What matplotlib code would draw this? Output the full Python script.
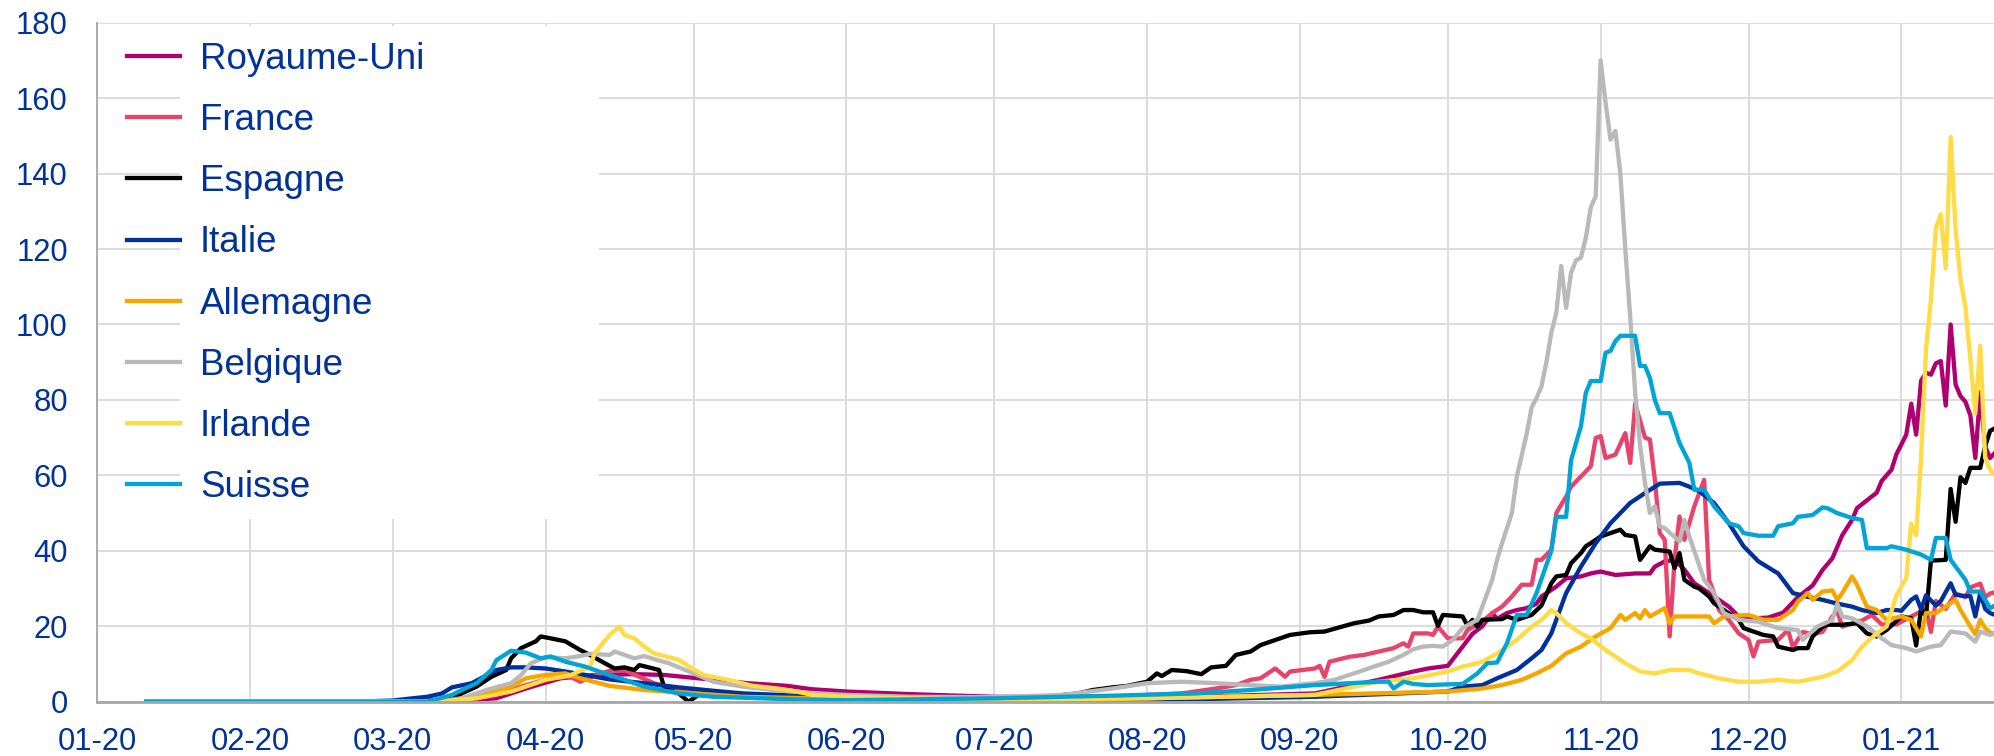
import matplotlib
matplotlib.use("Agg")
import matplotlib.pyplot as plt
import matplotlib.dates as mdates
from matplotlib.patches import Rectangle
import pandas as pd

plt.rcParams["font.family"] = ["Liberation Sans", "DejaVu Sans"]

# Royaume-Uni
uk_dates = ["2020-01-11", "2020-03-08", "2020-03-15", "2020-03-22", "2020-03-28", "2020-04-04",
            "2020-04-11", "2020-04-19", "2020-04-25", "2020-05-02", "2020-05-12", "2020-05-20",
            "2020-05-25", "2020-06-01", "2020-06-14", "2020-07-01", "2020-07-25", "2020-08-11",
            "2020-09-04", "2020-09-17", "2020-09-24", "2020-09-27", "2020-10-01", "2020-10-04",
            "2020-10-06", "2020-10-08", "2020-10-10", "2020-10-11", "2020-10-13", "2020-10-15",
            "2020-10-17", "2020-10-19", "2020-10-20", "2020-10-23", "2020-10-25", "2020-10-28",
            "2020-10-30", "2020-11-01", "2020-11-04", "2020-11-08", "2020-11-11", "2020-11-12",
            "2020-11-14", "2020-11-16", "2020-11-18", "2020-11-20", "2020-11-23", "2020-11-25",
            "2020-11-27", "2020-11-29", "2020-12-02", "2020-12-05", "2020-12-08", "2020-12-11",
            "2020-12-14", "2020-12-16", "2020-12-18", "2020-12-20", "2020-12-22", "2020-12-23",
            "2020-12-26", "2020-12-27", "2020-12-28", "2020-12-30", "2020-12-31", "2021-01-02",
            "2021-01-03", "2021-01-04", "2021-01-05", "2021-01-06", "2021-01-07", "2021-01-08",
            "2021-01-09", "2021-01-10", "2021-01-11", "2021-01-12", "2021-01-13", "2021-01-14",
            "2021-01-15", "2021-01-16", "2021-01-17", "2021-01-18", "2021-01-19", "2021-01-20"]
uk_vals = [0, 0, 0.3, 0.9, 3.5, 6.2,
           7.1, 7.3, 7.1, 6.2, 4.9, 4.2,
           3.3, 2.7, 2.0, 1.3, 1.2, 1.3,
           2.2, 5.8, 8.0, 8.8, 9.5, 14.6,
           18.0, 20.0, 23.5, 22.0, 23.5, 24.3,
           24.8, 26.0, 27.9, 30.5, 32.7, 33.2,
           34.0, 34.5, 33.6, 34.0, 34.0, 35.8,
           37.2, 37.6, 35.0, 31.4, 28.8, 27.0,
           25.2, 22.6, 22.1, 22.3, 23.6, 27.7,
           30.8, 34.9, 38.0, 44.1, 48.2, 51.3,
           54.4, 55.4, 58.5, 61.5, 65.6, 70.8,
           79.0, 70.8, 85.1, 87.2, 86.7, 89.7,
           90.3, 78.5, 100.0, 84.1, 81.0, 79.5,
           75.9, 64.6, 82.0, 67.7, 64.6, 66.0]

# France
fr_dates = ["2020-01-11", "2020-03-08", "2020-03-15", "2020-03-22", "2020-03-28", "2020-04-02",
            "2020-04-06", "2020-04-08", "2020-04-11", "2020-04-14", "2020-04-17", "2020-04-20",
            "2020-04-23", "2020-04-28", "2020-05-05", "2020-05-18", "2020-06-01", "2020-07-01",
            "2020-07-25", "2020-08-01", "2020-08-08", "2020-08-15", "2020-08-19", "2020-08-22",
            "2020-08-24", "2020-08-27", "2020-08-29", "2020-08-30", "2020-09-04", "2020-09-05",
            "2020-09-06", "2020-09-07", "2020-09-11", "2020-09-14", "2020-09-17", "2020-09-20",
            "2020-09-22", "2020-09-23", "2020-09-24", "2020-09-27", "2020-09-28", "2020-09-29",
            "2020-10-01", "2020-10-04", "2020-10-05", "2020-10-08", "2020-10-10", "2020-10-12",
            "2020-10-14", "2020-10-16", "2020-10-18", "2020-10-19", "2020-10-20", "2020-10-22",
            "2020-10-23", "2020-10-25", "2020-10-26", "2020-10-28", "2020-10-30", "2020-10-31",
            "2020-11-01", "2020-11-02", "2020-11-04", "2020-11-06", "2020-11-07", "2020-11-08",
            "2020-11-10", "2020-11-11", "2020-11-12", "2020-11-13", "2020-11-14", "2020-11-15",
            "2020-11-16", "2020-11-17", "2020-11-18", "2020-11-20", "2020-11-22", "2020-11-23",
            "2020-11-24", "2020-11-25", "2020-11-27", "2020-11-29", "2020-12-01", "2020-12-02",
            "2020-12-03", "2020-12-07", "2020-12-09", "2020-12-10", "2020-12-12", "2020-12-14",
            "2020-12-16", "2020-12-18", "2020-12-19", "2020-12-20", "2020-12-24", "2020-12-26",
            "2020-12-28", "2020-12-31", "2021-01-03", "2021-01-06", "2021-01-07", "2021-01-08",
            "2021-01-10", "2021-01-12", "2021-01-14", "2021-01-15", "2021-01-17", "2021-01-18",
            "2021-01-19", "2021-01-20"]
fr_vals = [0, 0, 0.5, 1.8, 4.4, 6.2,
           6.6, 5.3, 7.0, 8.2, 8.4, 6.6,
           4.9, 3.1, 2.2, 1.5, 0.8, 0.5,
           1.0, 1.8, 2.2, 3.5, 4.4, 5.8,
           6.2, 8.8, 6.6, 8.0, 8.8, 9.5,
           6.6, 10.6, 11.9, 12.4, 13.3, 14.2,
           15.5, 14.6, 18.1, 18.1, 17.7, 19.9,
           16.8, 16.8, 19.0, 21.2, 23.5, 25.2,
           27.9, 31.0, 31.0, 37.6, 37.6, 40.3,
           50.0, 54.4, 57.0, 59.7, 62.4, 69.9,
           70.4, 64.6, 65.5, 71.2, 63.3, 79.0,
           70.0, 69.5, 58.8, 44.7, 42.9, 17.3,
           37.6, 49.1, 42.9, 51.8, 58.8, 32.3,
           28.8, 24.3, 21.7, 18.1, 16.4, 12.0,
           15.9, 16.4, 19.0, 14.4, 18.5, 17.9,
           18.5, 22.6, 24.0, 19.9, 21.5, 23.0,
           20.5, 20.5, 22.6, 24.6, 18.5, 26.7,
           24.6, 28.7, 27.7, 30.3, 31.3, 27.7,
           28.7, 29.0]

# Espagne
es_dates = ["2020-01-11", "2020-03-05", "2020-03-10", "2020-03-13", "2020-03-15", "2020-03-18",
            "2020-03-21", "2020-03-24", "2020-03-25", "2020-03-27", "2020-03-30", "2020-03-31",
            "2020-04-02", "2020-04-05", "2020-04-08", "2020-04-10", "2020-04-13", "2020-04-15",
            "2020-04-17", "2020-04-19", "2020-04-20", "2020-04-21", "2020-04-24", "2020-04-25",
            "2020-04-26", "2020-04-28", "2020-04-30", "2020-05-02", "2020-05-10", "2020-05-20",
            "2020-05-25", "2020-06-10", "2020-07-01", "2020-07-11", "2020-07-13", "2020-07-18",
            "2020-07-21", "2020-07-25", "2020-07-28", "2020-08-01", "2020-08-03", "2020-08-04",
            "2020-08-06", "2020-08-09", "2020-08-12", "2020-08-14", "2020-08-17", "2020-08-19",
            "2020-08-22", "2020-08-24", "2020-08-28", "2020-08-30", "2020-09-03", "2020-09-06",
            "2020-09-09", "2020-09-12", "2020-09-15", "2020-09-17", "2020-09-20", "2020-09-22",
            "2020-09-24", "2020-09-26", "2020-09-28", "2020-09-29", "2020-09-30", "2020-10-04",
            "2020-10-05", "2020-10-06", "2020-10-07", "2020-10-08", "2020-10-12", "2020-10-13",
            "2020-10-15", "2020-10-18", "2020-10-20", "2020-10-22", "2020-10-23", "2020-10-25",
            "2020-10-26", "2020-10-28", "2020-10-29", "2020-10-31", "2020-11-01", "2020-11-03",
            "2020-11-05", "2020-11-06", "2020-11-08", "2020-11-09", "2020-11-11", "2020-11-12",
            "2020-11-15", "2020-11-16", "2020-11-17", "2020-11-18", "2020-11-20", "2020-11-21",
            "2020-11-23", "2020-11-24", "2020-11-26", "2020-11-29", "2020-11-30", "2020-12-04",
            "2020-12-06", "2020-12-07", "2020-12-10", "2020-12-11", "2020-12-13", "2020-12-14",
            "2020-12-16", "2020-12-17", "2020-12-20", "2020-12-23", "2020-12-25", "2020-12-27",
            "2020-12-29", "2021-01-01", "2021-01-03", "2021-01-04", "2021-01-05", "2021-01-06",
            "2021-01-07", "2021-01-10", "2021-01-11", "2021-01-12", "2021-01-13", "2021-01-14",
            "2021-01-15", "2021-01-17", "2021-01-18", "2021-01-19", "2021-01-20"]
es_vals = [0, 0, 0.4, 1.0, 2.2, 4.0,
           6.6, 8.4, 11.5, 14.2, 16.0, 17.3,
           16.8, 16.0, 13.7, 12.4, 10.2, 8.8,
           9.1, 8.4, 9.7, 9.4, 8.4, 4.0,
           3.1, 2.2, 0.0, 1.8, 1.6, 1.2,
           1.0, 0.3, 0.5, 1.0, 1.5, 2.2,
           3.1, 3.8, 4.2, 5.3, 7.5, 6.8,
           8.4, 8.1, 7.3, 9.1, 9.5, 12.4,
           13.3, 15.0, 16.8, 17.7, 18.4, 18.6,
           19.7, 20.8, 21.5, 22.6, 23.0, 24.3,
           24.3, 23.7, 23.7, 20.1, 23.0, 22.6,
           20.1, 21.7, 19.9, 21.7, 21.9, 22.6,
           21.7, 23.0, 25.5, 31.4, 33.2, 33.6,
           36.7, 39.4, 41.2, 42.9, 43.8, 44.7,
           45.6, 44.2, 43.8, 37.6, 41.2, 40.3,
           39.8, 35.4, 39.4, 32.3, 30.5, 30.0,
           27.9, 26.1, 24.3, 21.7, 19.5, 17.7,
           17.3, 14.6, 13.7, 14.2, 14.2, 17.3,
           19.9, 20.4, 20.4, 20.8, 18.1, 17.3,
           19.0, 22.6, 22.1, 14.9, 24.6, 22.6,
           37.4, 37.6, 56.4, 47.7, 59.5, 58.0,
           62.0, 62.0, 67.7, 71.8, 72.5]

# Italie
it_dates = ["2020-01-11", "2020-02-22", "2020-03-01", "2020-03-05", "2020-03-08", "2020-03-11",
            "2020-03-13", "2020-03-17", "2020-03-20", "2020-03-22", "2020-03-25", "2020-03-28",
            "2020-04-01", "2020-04-05", "2020-04-09", "2020-04-14", "2020-04-21", "2020-04-28",
            "2020-05-05", "2020-05-11", "2020-05-22", "2020-06-01", "2020-07-01", "2020-08-01",
            "2020-09-04", "2020-10-01", "2020-10-04", "2020-10-08", "2020-10-11", "2020-10-15",
            "2020-10-18", "2020-10-20", "2020-10-22", "2020-10-23", "2020-10-25", "2020-10-28",
            "2020-10-31", "2020-11-03", "2020-11-07", "2020-11-10", "2020-11-13", "2020-11-17",
            "2020-11-19", "2020-11-21", "2020-11-24", "2020-11-27", "2020-11-30", "2020-12-03",
            "2020-12-07", "2020-12-08", "2020-12-10", "2020-12-13", "2020-12-16", "2020-12-19",
            "2020-12-22", "2020-12-24", "2020-12-27", "2020-12-29", "2020-12-31", "2021-01-01",
            "2021-01-03", "2021-01-04", "2021-01-05", "2021-01-06", "2021-01-08", "2021-01-09",
            "2021-01-11", "2021-01-12", "2021-01-14", "2021-01-15", "2021-01-16", "2021-01-17",
            "2021-01-18", "2021-01-19", "2021-01-20"]
it_vals = [0, 0, 0.3, 0.9, 1.3, 2.2,
           3.8, 4.9, 7.0, 8.4, 9.1, 9.1,
           8.8, 8.0, 7.1, 5.9, 4.9, 3.8,
           2.9, 2.2, 1.6, 1.0, 0.4, 0.4,
           1.3, 2.7, 4.0, 4.4, 6.2, 8.4,
           11.5, 13.7, 18.1, 21.7, 28.8, 35.8,
           42.0, 47.3, 52.7, 55.3, 57.8, 58.0,
           57.0, 55.8, 52.7, 47.3, 41.2, 37.2,
           34.0, 32.3, 28.8, 27.8, 27.0, 26.0,
           25.2, 24.3, 23.5, 24.3, 24.3, 24.1,
           27.0, 27.9, 24.5, 28.2, 25.5, 26.7,
           31.4, 28.3, 28.0, 28.0, 22.6, 28.8,
           24.6, 23.5, 23.0]

# Allemagne
de_dates = ["2020-01-11", "2020-03-05", "2020-03-12", "2020-03-18", "2020-03-25", "2020-03-28",
            "2020-04-01", "2020-04-05", "2020-04-08", "2020-04-14", "2020-04-21", "2020-05-01",
            "2020-05-11", "2020-06-01", "2020-07-01", "2020-08-01", "2020-09-04", "2020-10-01",
            "2020-10-08", "2020-10-12", "2020-10-16", "2020-10-19", "2020-10-22", "2020-10-25",
            "2020-10-28", "2020-10-31", "2020-11-03", "2020-11-05", "2020-11-06", "2020-11-08",
            "2020-11-09", "2020-11-10", "2020-11-11", "2020-11-14", "2020-11-15", "2020-11-16",
            "2020-11-23", "2020-11-24", "2020-11-26", "2020-12-01", "2020-12-04", "2020-12-07",
            "2020-12-10", "2020-12-11", "2020-12-13", "2020-12-14", "2020-12-16", "2020-12-18",
            "2020-12-19", "2020-12-20", "2020-12-22", "2020-12-23", "2020-12-25", "2020-12-27",
            "2020-12-29", "2021-01-01", "2021-01-03", "2021-01-05", "2021-01-06", "2021-01-08",
            "2021-01-10", "2021-01-12", "2021-01-13", "2021-01-15", "2021-01-16", "2021-01-17",
            "2021-01-18", "2021-01-19", "2021-01-20"]
de_vals = [0, 0, 0.3, 1.3, 4.0, 6.2,
           7.1, 7.5, 6.2, 4.2, 3.1, 2.2,
           1.3, 0.7, 0.4, 0.9, 1.8, 2.7,
           3.5, 4.4, 5.8, 7.5, 9.5, 12.8,
           14.6, 17.3, 19.5, 23.0, 21.7, 23.5,
           22.1, 24.3, 22.6, 24.8, 20.8, 22.6,
           22.6, 20.8, 22.6, 23.0, 21.7, 21.7,
           24.3, 26.5, 28.8, 27.0, 29.2, 29.5,
           27.0, 28.8, 33.2, 31.0, 25.2, 24.3,
           21.7, 22.6, 21.7, 17.3, 23.5, 23.5,
           25.2, 27.0, 24.3, 19.9, 17.9, 21.7,
           19.5, 18.3, 18.0]

# Belgique
be_dates = ["2020-01-11", "2020-03-10", "2020-03-15", "2020-03-20", "2020-03-25", "2020-03-27",
            "2020-03-29", "2020-04-01", "2020-04-05", "2020-04-08", "2020-04-10", "2020-04-14",
            "2020-04-15", "2020-04-19", "2020-04-21", "2020-04-24", "2020-04-26", "2020-05-01",
            "2020-05-05", "2020-05-11", "2020-05-18", "2020-05-25", "2020-06-01", "2020-06-14",
            "2020-07-01", "2020-07-15", "2020-07-25", "2020-08-01", "2020-08-08", "2020-08-15",
            "2020-08-22", "2020-08-28", "2020-09-04", "2020-09-08", "2020-09-12", "2020-09-16",
            "2020-09-19", "2020-09-22", "2020-09-24", "2020-09-26", "2020-09-28", "2020-09-30",
            "2020-10-02", "2020-10-04", "2020-10-07", "2020-10-08", "2020-10-10", "2020-10-11",
            "2020-10-12", "2020-10-14", "2020-10-15", "2020-10-17", "2020-10-18", "2020-10-19",
            "2020-10-20", "2020-10-21", "2020-10-22", "2020-10-23", "2020-10-24", "2020-10-25",
            "2020-10-26", "2020-10-27", "2020-10-28", "2020-10-29", "2020-10-30", "2020-10-31",
            "2020-11-01", "2020-11-02", "2020-11-03", "2020-11-04", "2020-11-05", "2020-11-06",
            "2020-11-07", "2020-11-08", "2020-11-09", "2020-11-10", "2020-11-11", "2020-11-12",
            "2020-11-13", "2020-11-14", "2020-11-17", "2020-11-18", "2020-11-19", "2020-11-22",
            "2020-11-24", "2020-11-26", "2020-11-29", "2020-12-03", "2020-12-07", "2020-12-11",
            "2020-12-12", "2020-12-15", "2020-12-18", "2020-12-19", "2020-12-20", "2020-12-22",
            "2020-12-25", "2020-12-28", "2020-12-30", "2021-01-02", "2021-01-04", "2021-01-07",
            "2021-01-09", "2021-01-11", "2021-01-14", "2021-01-16", "2021-01-17", "2021-01-19",
            "2021-01-20"]
be_vals = [0, 0, 0.9, 3.1, 4.9, 7.0,
           10.2, 11.8, 11.5, 12.1, 12.7, 12.4,
           13.3, 11.5, 12.1, 10.9, 10.2, 7.5,
           5.3, 4.0, 3.0, 2.3, 1.8, 1.3,
           1.2, 1.8, 3.5, 4.9, 5.3, 4.9,
           4.4, 4.0, 4.9, 5.8, 7.5, 9.3,
           10.6, 12.4, 13.9, 14.6, 14.8, 14.6,
           16.4, 19.5, 21.7, 25.2, 32.3, 37.6,
           42.0, 50.0, 59.7, 71.0, 78.0, 80.5,
           83.6, 90.0, 97.8, 103.0, 115.5, 104.4,
           113.7, 117.0, 117.7, 123.0, 131.0, 134.0,
           170.0, 158.8, 149.0, 151.3, 140.0, 120.0,
           102.0, 82.0, 68.0, 58.0, 50.0, 51.8,
           46.5, 46.0, 42.5, 48.2, 43.8, 32.3,
           28.8, 23.5, 21.7, 21.2, 19.5, 19.0,
           16.4, 19.9, 21.7, 26.0, 22.6, 22.1,
           20.0, 16.8, 15.0, 14.2, 13.3, 14.6,
           15.0, 18.6, 18.1, 15.9, 18.6, 17.7,
           18.0]

# Irlande
ie_dates = ["2020-01-11", "2020-03-10", "2020-03-18", "2020-03-25", "2020-04-01", "2020-04-06",
            "2020-04-10", "2020-04-11", "2020-04-14", "2020-04-16", "2020-04-17", "2020-04-19",
            "2020-04-21", "2020-04-23", "2020-04-26", "2020-04-28", "2020-05-01", "2020-05-03",
            "2020-05-08", "2020-05-13", "2020-05-18", "2020-05-22", "2020-05-25", "2020-06-01",
            "2020-07-01", "2020-07-25", "2020-08-01", "2020-09-04", "2020-09-17", "2020-09-24",
            "2020-10-01", "2020-10-04", "2020-10-08", "2020-10-11", "2020-10-15", "2020-10-18",
            "2020-10-20", "2020-10-22", "2020-10-23", "2020-10-25", "2020-10-28", "2020-10-30",
            "2020-11-02", "2020-11-06", "2020-11-09", "2020-11-12", "2020-11-15", "2020-11-19",
            "2020-11-21", "2020-11-25", "2020-11-29", "2020-12-03", "2020-12-07", "2020-12-11",
            "2020-12-13", "2020-12-16", "2020-12-19", "2020-12-22", "2020-12-24", "2020-12-27",
            "2020-12-29", "2020-12-30", "2020-12-31", "2021-01-02", "2021-01-03", "2021-01-04",
            "2021-01-05", "2021-01-06", "2021-01-07", "2021-01-08", "2021-01-09", "2021-01-10",
            "2021-01-11", "2021-01-12", "2021-01-13", "2021-01-14", "2021-01-15", "2021-01-16",
            "2021-01-17", "2021-01-18", "2021-01-19", "2021-01-20"]
ie_vals = [0, 0, 0.9, 2.7, 5.8, 7.0,
           9.3, 13.0, 17.7, 19.9, 17.7, 16.8,
           14.6, 12.8, 11.8, 11.1, 8.6, 7.1,
           5.8, 4.2, 3.5, 2.7, 1.8, 1.3,
           0.4, 0.8, 0.9, 1.8, 5.3, 6.2,
           8.0, 9.3, 10.6, 12.8, 16.4, 19.9,
           21.7, 24.3, 23.5, 20.8, 18.1, 16.8,
           13.7, 10.2, 8.0, 7.5, 8.4, 8.4,
           7.5, 6.2, 5.3, 5.3, 5.8, 5.3,
           5.8, 6.6, 8.0, 11.0, 14.6, 18.1,
           19.9, 24.0, 28.2, 32.8, 47.2, 44.1,
           64.6, 93.3, 106.7, 125.6, 129.2, 114.9,
           149.7, 125.1, 111.8, 104.6, 90.7, 76.4,
           94.4, 64.6, 61.5, 60.0]

# Suisse
ch_dates = ["2020-01-11", "2020-03-08", "2020-03-13", "2020-03-15", "2020-03-18", "2020-03-21",
            "2020-03-22", "2020-03-25", "2020-03-28", "2020-03-31", "2020-04-02", "2020-04-05",
            "2020-04-09", "2020-04-13", "2020-04-17", "2020-04-21", "2020-04-28", "2020-05-05",
            "2020-05-22", "2020-06-01", "2020-07-01", "2020-07-25", "2020-08-11", "2020-08-22",
            "2020-09-04", "2020-09-17", "2020-09-19", "2020-09-20", "2020-09-22", "2020-09-24",
            "2020-09-27", "2020-10-01", "2020-10-04", "2020-10-07", "2020-10-09", "2020-10-11",
            "2020-10-13", "2020-10-15", "2020-10-17", "2020-10-19", "2020-10-22", "2020-10-23",
            "2020-10-25", "2020-10-26", "2020-10-28", "2020-10-29", "2020-10-30", "2020-11-01",
            "2020-11-02", "2020-11-03", "2020-11-04", "2020-11-05", "2020-11-08", "2020-11-09",
            "2020-11-10", "2020-11-11", "2020-11-12", "2020-11-13", "2020-11-15", "2020-11-17",
            "2020-11-19", "2020-11-20", "2020-11-22", "2020-11-24", "2020-11-27", "2020-11-29",
            "2020-11-30", "2020-12-03", "2020-12-06", "2020-12-07", "2020-12-10", "2020-12-11",
            "2020-12-14", "2020-12-16", "2020-12-17", "2020-12-19", "2020-12-22", "2020-12-24",
            "2020-12-25", "2020-12-29", "2020-12-30", "2021-01-02", "2021-01-05", "2021-01-07",
            "2021-01-08", "2021-01-10", "2021-01-11", "2021-01-14", "2021-01-15", "2021-01-17",
            "2021-01-19", "2021-01-20"]
ch_vals = [0, 0, 1.8, 3.1, 4.9, 8.4,
           11.0, 13.5, 13.0, 11.5, 12.0, 10.6,
           9.3, 7.5, 5.8, 4.0, 2.2, 1.3,
           0.6, 0.4, 0.9, 1.6, 2.2, 3.1,
           4.4, 5.3, 5.3, 3.5, 5.3, 4.7,
           4.4, 4.6, 4.7, 7.5, 10.2, 10.4,
           15.5, 23.0, 23.0, 28.8, 40.0, 49.0,
           49.0, 64.0, 73.0, 81.9, 85.0, 85.0,
           92.5, 93.0, 95.6, 97.0, 97.0, 89.0,
           89.0, 85.8, 80.0, 76.5, 76.5, 68.6,
           63.3, 56.2, 56.2, 51.8, 47.3, 46.5,
           44.7, 44.0, 44.0, 46.5, 47.3, 49.0,
           49.5, 51.5, 51.3, 50.0, 48.7, 48.2,
           40.7, 40.7, 41.2, 40.3, 39.0, 37.6,
           43.4, 43.4, 37.6, 32.3, 29.2, 29.2,
           24.8, 25.5]

series = [
    ("Royaume-Uni", uk_dates, uk_vals, "#b0006f"),
    ("France", fr_dates, fr_vals, "#e8446b"),
    ("Espagne", es_dates, es_vals, "#000000"),
    ("Italie", it_dates, it_vals, "#00309b"),
    ("Allemagne", de_dates, de_vals, "#f7a600"),
    ("Belgique", be_dates, be_vals, "#b9b9b9"),
    ("Irlande", ie_dates, ie_vals, "#ffdc45"),
    ("Suisse", ch_dates, ch_vals, "#00a5d6"),
]

text_blue = "#003299"

fig = plt.figure(figsize=(19.94, 7.56), dpi=100)
ax = fig.add_axes([97 / 1994, 1 - 701.7 / 756, 1 - 97 / 1994, (701.7 - 22.7) / 756])

for name, d, v, c in series:
    ax.plot(pd.to_datetime(d), v, color=c, lw=3.1, label=name,
            solid_joinstyle="round", zorder=2)

ax.set_xlim(pd.Timestamp("2020-01-01"), pd.Timestamp("2021-01-19 19:00"))
ax.set_ylim(0, 180)
ax.set_yticks(range(0, 181, 20))
ax.xaxis.set_major_locator(mdates.MonthLocator())
ax.xaxis.set_major_formatter(mdates.DateFormatter("%m-%y"))

ax.set_axisbelow(True)
ax.grid(True, color="#d9d9d9", lw=1.3)
for s in ["top", "right"]:
    ax.spines[s].set_visible(False)
ax.spines["left"].set_color("#a6a6a6")
ax.spines["left"].set_linewidth(1.3)
ax.spines["bottom"].set_color("#a6a6a6")
ax.spines["bottom"].set_linewidth(2)

ax.tick_params(axis="both", length=0, labelsize=22.3, labelcolor=text_blue)
ax.tick_params(axis="y", pad=21)
ax.tick_params(axis="x", pad=18)

# white box behind the legend hides the gridlines
ax.add_patch(Rectangle((0.0438, 0.2685), 0.2208, 0.7265, transform=ax.transAxes,
                       facecolor="white", edgecolor="none", zorder=1))

ax.legend(loc="upper left", bbox_to_anchor=(127 / 1994, 1 - 42 / 756),
          bbox_transform=fig.transFigure, frameon=False, fontsize=26.5,
          labelcolor=text_blue, handlelength=1.44, handletextpad=0.54,
          labelspacing=0.71, borderpad=0, borderaxespad=0)

fig.savefig("out.png", dpi=100)
